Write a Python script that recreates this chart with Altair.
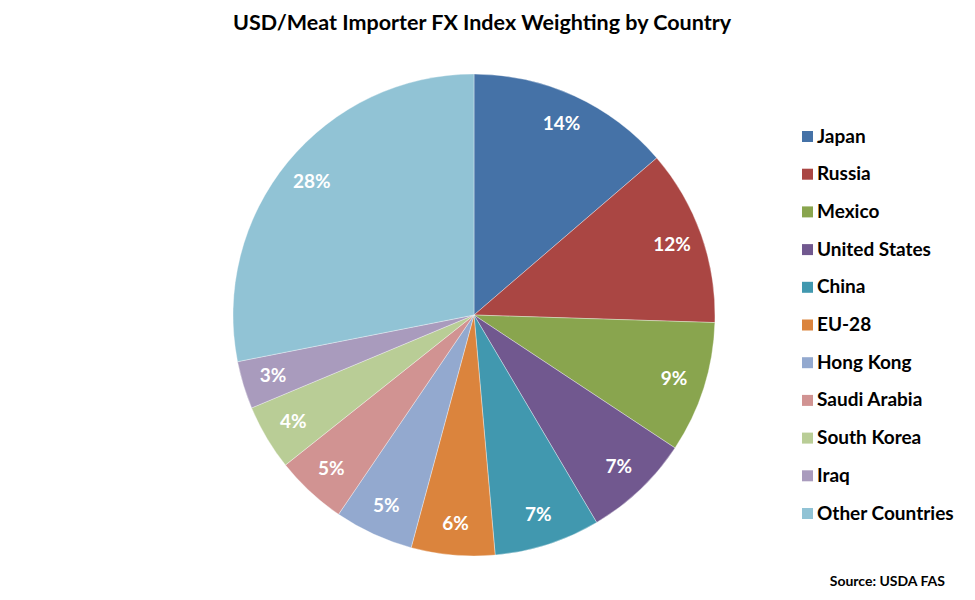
import altair as alt
import pandas as pd

countries = ["Japan", "Russia", "Mexico", "United States", "China", "EU-28",
             "Hong Kong", "Saudi Arabia", "South Korea", "Iraq", "Other Countries"]
weights = [13.7, 11.8, 8.8, 7.2, 7.1, 5.6, 5.3, 4.8, 4.4, 3.2, 28.1]
colors = ["#4572A7", "#AA4643", "#89A54E", "#71588F", "#4198AF", "#DB843D",
          "#93A9CF", "#D19392", "#B9CD96", "#A99BBD", "#91C3D5"]

df = pd.DataFrame({
    "country": countries,
    "weight": weights,
    "order": list(range(len(countries))),
})
df["label"] = [f"{int(w + 0.5)}%" for w in weights]

FONT = "Lato"

base = alt.Chart(df).encode(
    theta=alt.Theta("weight:Q", stack=True),
    order=alt.Order("order:Q"),
)

pie = base.mark_arc(outerRadius=241, stroke="#ffffff", strokeWidth=0.35).encode(
    color=alt.Color(
        "country:N",
        scale=alt.Scale(domain=countries, range=colors),
        legend=alt.Legend(
            title=None,
            orient="none",
            legendX=790,
            legendY=79,
            symbolType="square",
            symbolSize=121,
            symbolStrokeWidth=0,
            labelFont=FONT,
            labelFontSize=19,
            labelFontWeight="bold",
            labelColor="#000000",
            labelOffset=0,
            rowPadding=17.7,
            padding=0,
            labelLimit=300,
        ),
    )
)

labels = base.mark_text(
    radius=210, font=FONT, fontSize=19, fontWeight="bold", color="#ffffff"
).encode(text="label:N")

source = alt.Chart(pd.DataFrame({"t": ["Source: USDA FAS"]})).mark_text(
    align="right", baseline="middle", font=FONT, fontSize=14, fontWeight="bold",
    color="#000000"
).encode(x=alt.value(937), y=alt.value(534), text="t:N")

chart = alt.layer(pie, labels, source).properties(
    width=932,
    height=534,
    autosize=alt.AutoSizeParams(type="none"),
    padding={"top": 40, "left": 0, "right": 27, "bottom": 10},
    title=alt.TitleParams(
        "USD/Meat Importer FX Index Weighting by Country",
        font=FONT, fontSize=21.5, fontWeight="bold", color="#000000",
        anchor="middle", dx=8, offset=14,
    ),
).configure_view(stroke=None)

chart.save("out.html", embed_options={"renderer": "svg", "actions": False})
